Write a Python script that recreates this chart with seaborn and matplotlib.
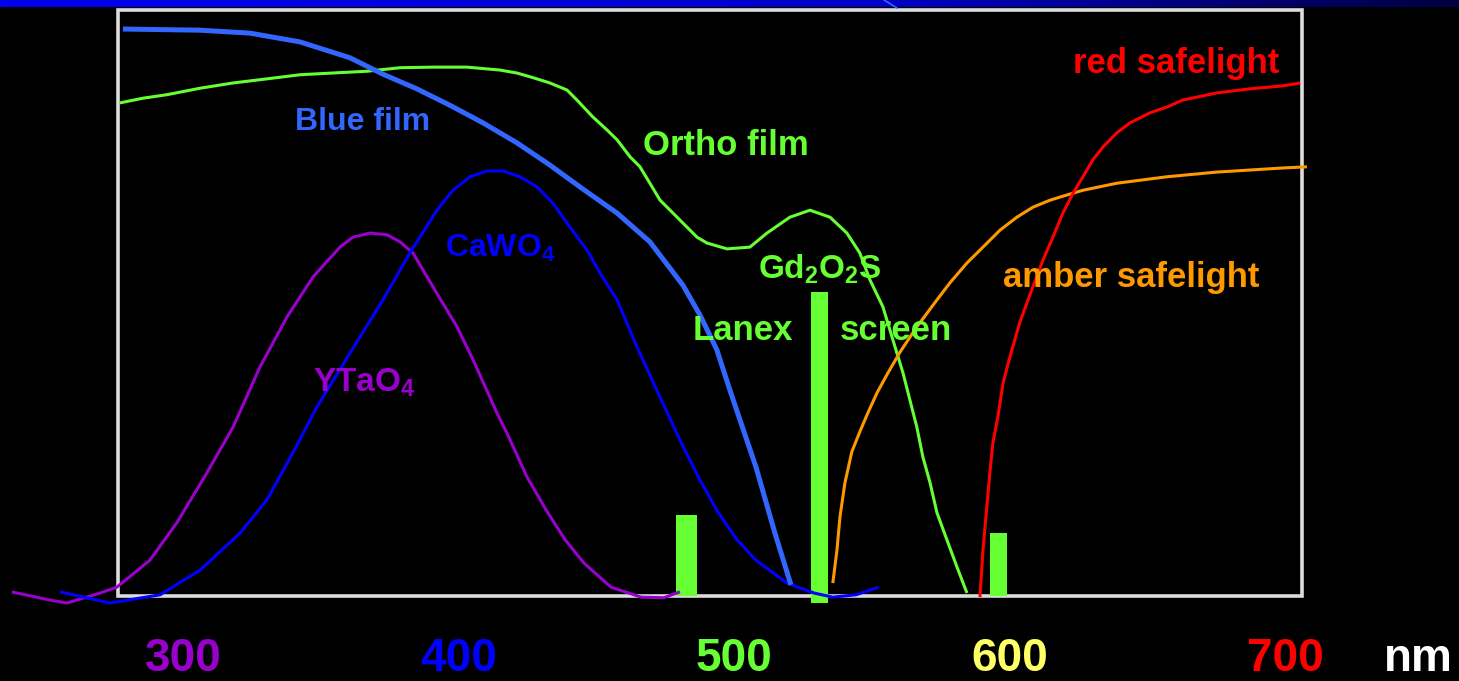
import numpy as np
import pandas as pd
import matplotlib
matplotlib.use('Agg')
import matplotlib.pyplot as plt
import seaborn as sns
from matplotlib.colors import LinearSegmentedColormap
from matplotlib.patches import Rectangle
from matplotlib.lines import Line2D

# wavelength (nm) / relative sensitivity (%)
blue_film_nm = [278.2, 306.2, 324.3, 342.5, 360.6, 372.6, 384.9, 396.9, 408.9, 421.2,
                433.2, 445.2, 457.6, 469.5, 481.5, 487.7, 493.8, 498.9, 508.0, 514.9, 520.7]
blue_film_val = [96.7, 96.5, 96.0, 94.5, 91.8, 89.0, 86.5, 83.7, 80.7, 77.3,
                 73.5, 69.4, 65.3, 60.4, 53.0, 47.9, 42.0, 34.6, 22.0, 10.7, 1.9]

ortho_nm = [277.1, 285.5, 294.2, 306.2, 318.2, 330.5, 342.5, 354.5, 366.8, 378.8,
            390.8, 403.1, 415.1, 421.2, 427.1, 433.2, 439.4, 443.0, 448.8, 453.9,
            457.6, 462.3, 465.9, 469.5, 473.2, 477.9, 481.5, 486.6, 490.2, 497.5,
            505.8, 512.0, 520.3, 527.6, 534.9, 541.0, 545.7, 549.4, 554.1, 557.7,
            561.4, 563.9, 566.4, 568.6, 571.2, 573.7, 577.3, 581.0, 584.6]
ortho_val = [84.1, 84.9, 85.5, 86.6, 87.5, 88.2, 88.9, 89.2, 89.5, 90.1,
             90.2, 90.2, 89.7, 89.2, 88.4, 87.5, 86.3, 84.6, 81.7, 79.5,
             77.8, 74.9, 73.2, 70.4, 67.5, 65.3, 63.6, 61.2, 60.2, 59.2,
             59.5, 61.9, 64.6, 65.8, 64.6, 61.9, 58.5, 53.9, 49.3, 43.7,
             38.0, 33.4, 28.8, 23.7, 19.3, 14.2, 9.6, 4.9, 0.5]

cawo4_nm = [255.4, 273.5, 291.7, 306.2, 320.7, 330.5, 339.9, 348.6, 360.6, 372.6,
            382.4, 392.2, 398.0, 404.2, 410.4, 416.2, 422.3, 428.5, 434.3, 440.5,
            446.7, 451.4, 457.6, 464.8, 473.2, 480.4, 487.3, 494.2, 501.1, 508.0,
            519.3, 529.1, 535.9, 544.3, 552.6]
cawo4_val = [0.7, -1.2, 0.2, 4.4, 10.7, 16.4, 24.4, 32.2, 41.4, 50.5,
             58.5, 65.8, 69.2, 71.5, 72.5, 72.5, 71.5, 69.8, 67.0, 62.9,
             59.0, 55.1, 50.5, 42.5, 33.9, 26.6, 20.1, 14.3, 9.6, 6.1,
             2.2, 0.5, -0.2, 0.2, 1.5]

ytao4_nm = [237.9, 251.7, 257.9, 269.9, 276.0, 288.0, 297.8, 308.7, 318.2, 328.0,
            337.8, 347.2, 357.0, 361.7, 367.9, 374.1, 378.8, 383.5, 390.8, 399.5,
            405.3, 414.0, 417.6, 424.9, 431.8, 438.7, 445.6, 455.4, 466.3, 474.6, 480.4]
ytao4_val = [0.7, -0.7, -1.2, 0.5, 1.5, 6.1, 12.5, 21.0, 28.8, 39.1,
             47.6, 54.4, 59.5, 61.2, 61.9, 61.6, 60.4, 58.5, 52.7, 45.9,
             40.3, 31.2, 27.8, 20.3, 14.7, 9.6, 5.6, 1.5, -0.2, -0.3, 0.7]

red_nm = [589.3, 590.4, 591.8, 592.9, 594.0, 595.8, 597.7, 600.2, 603.8, 608.5,
          612.2, 615.8, 619.4, 623.1, 626.7, 630.3, 634.0, 639.0, 643.8, 651.0,
          657.2, 663.0, 675.3, 687.3, 699.3, 705.5]
red_val = [-0.2, 7.8, 15.2, 21.0, 26.1, 30.5, 36.3, 40.8, 46.7, 52.7,
           57.3, 61.2, 65.3, 68.7, 71.5, 74.4, 76.6, 79.0, 80.7, 82.4,
           83.4, 84.6, 85.8, 86.5, 87.0, 87.5]

amber_nm = [535.9, 537.4, 538.5, 540.3, 542.8, 545.7, 548.6, 551.9, 555.5, 560.3,
            566.4, 573.7, 578.4, 584.6, 590.4, 596.6, 602.7, 608.5, 614.7, 620.9,
            626.7, 639.0, 657.2, 675.3, 699.3, 708.0]
amber_val = [2.2, 7.8, 13.5, 19.3, 24.6, 28.0, 31.2, 34.6, 37.7, 41.6,
             45.9, 50.5, 53.4, 56.8, 59.5, 62.4, 64.6, 66.3, 67.5, 68.4,
             69.2, 70.4, 71.5, 72.3, 73.0, 73.2]

# Lanex screen emission lines
line_nm = [482.8, 531.0, 596.0]
line_width = [7.6, 6.2, 6.2]
line_top = [13.8, 51.9, 10.7]
line_bottom = [0.0, -1.2, 0.0]

tick_pos = [300, 400, 500, 600, 700, 748.3]
tick_text = ['300', '400', '500', '600', '700', 'nm']
tick_colors = ['#9900cc', '#0000ff', '#66ff33', '#ffff66', '#ff0000', '#ffffff']

sns.set_theme(style="dark", rc={"axes.facecolor": "black", "figure.facecolor": "black"})
plt.rcParams['font.family'] = ['Liberation Sans', 'DejaVu Sans']
plt.rcParams['mathtext.fontset'] = 'custom'
plt.rcParams['mathtext.rm'] = 'Liberation Sans:bold'
plt.rcParams['mathtext.bf'] = 'Liberation Sans:bold'
plt.rcParams['mathtext.default'] = 'bf'

fig = plt.figure(figsize=(14.59, 6.81), dpi=100)
fig.patch.set_facecolor('black')

ax = fig.add_axes([0, 56 / 681, 1, 625 / 681])
ax.set_facecolor('black')
ax.set_xlim(233.6, 763.2)
ax.set_ylim(-4.95, 101.65)

ax.add_patch(Rectangle((276.4, 0), 706.2 - 276.4, 100, fill=False, edgecolor='#dcdcdc',
                       lw=2.6, zorder=1))

ax.bar(np.array(line_nm), np.array(line_top) - np.array(line_bottom), width=line_width,
       bottom=line_bottom, color='#66ff33', edgecolor='none', linewidth=0, zorder=2)

curves = [
    (ytao4_nm, ytao4_val, '#9900cc', 2.2),
    (cawo4_nm, cawo4_val, '#0000ff', 2.2),
    (ortho_nm, ortho_val, '#66ff33', 2.2),
    (amber_nm, amber_val, '#ff9900', 2.2),
    (red_nm, red_val, '#ff0000', 2.2),
    (blue_film_nm, blue_film_val, '#3366ff', 3.6),
]
for xs, ys, col, lw in curves:
    df = pd.DataFrame({'nm': xs, 'sens': ys})
    sns.lineplot(data=df, x='nm', y='sens', ax=ax, color=col, lw=lw, sort=False,
                 estimator=None, zorder=3, solid_joinstyle='round', solid_capstyle='butt')

lbl = dict(fontsize=25, fontweight='bold', va='baseline', ha='left')
ax.text(340.7, 79.5, 'Blue film', color='#3366ff', **{**lbl, 'fontsize': 23})
ax.text(467.0, 75.2, 'Ortho film', color='#66ff33', **lbl)
ax.text(395.1, 57.8, 'CaWO$_4$', color='#0000ff', **{**lbl, 'fontsize': 23})
ax.text(347.2, 34.8, 'YTaO$_4$', color='#9900cc', **{**lbl, 'fontsize': 24})
ax.text(508.7, 54.2, 'Gd$_2$O$_2$S', color='#66ff33', **{**lbl, 'fontsize': 24})
ax.text(485.1, 43.7, 'Lanex', color='#66ff33', **lbl)
ax.text(538.5, 43.7, 'screen', color='#66ff33', **lbl)
ax.text(623.1, 89.2, 'red safelight', color='#ff0000', **lbl)
ax.text(597.7, 52.7, 'amber safelight', color='#ff9900', **lbl)

ax.set_xticks(tick_pos)
ax.set_xticklabels(tick_text, fontsize=33, fontweight='bold')
for t, c in zip(ax.get_xticklabels(), tick_colors):
    t.set_color(c)
ax.tick_params(axis='x', length=0, pad=8.5)
ax.set_yticks([])
ax.set_xlabel('')
ax.set_ylabel('')
ax.grid(False)
for s in ax.spines.values():
    s.set_visible(False)

# slide header band
band = fig.add_axes([0, 1 - 7 / 681, 1, 7 / 681])
band_cmap = LinearSegmentedColormap.from_list('band', [(0, '#0000f2'), (0.6, '#0000c8'), (1, '#000040')])
band.imshow(np.linspace(0, 1, 256)[None, :], aspect='auto', cmap=band_cmap)
band.axis('off')
fig.add_artist(Line2D([884 / 1459, 897 / 1459], [1, 1 - 8 / 681], color='#3366ff', lw=1.2,
                      transform=fig.transFigure))

fig.savefig('out.png', dpi=100, facecolor='black')
